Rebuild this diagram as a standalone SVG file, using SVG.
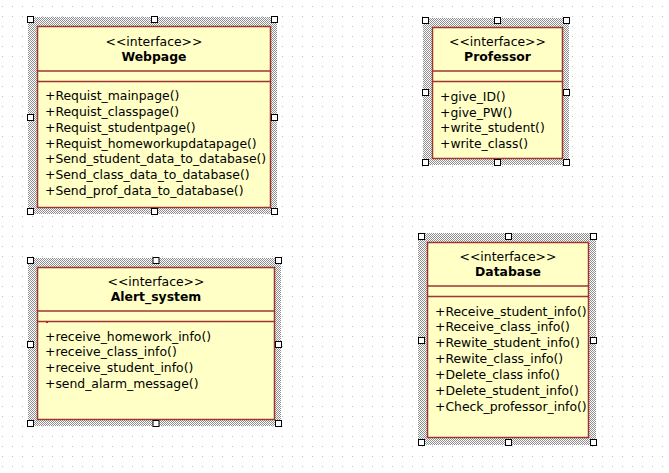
<svg xmlns="http://www.w3.org/2000/svg" width="669" height="473" viewBox="0 0 669 473">
<defs>
<pattern id="grid" x="0" y="0" width="10" height="10" patternUnits="userSpaceOnUse"><rect x="2" y="6" width="1" height="1" fill="#bfbfbf"/></pattern>
<pattern id="hatch" x="0" y="0" width="2" height="2" patternUnits="userSpaceOnUse"><rect width="2" height="2" fill="#ffffff"/><rect x="0" y="0" width="1" height="1" fill="#8f8f8f"/><rect x="1" y="1" width="1" height="1" fill="#8f8f8f"/></pattern>
</defs>
<style>
.hatch{fill:url(#hatch)}
.box{fill:#ffffc6;stroke:#9e3535;stroke-width:1.5}
.div{stroke:#9e3535;stroke-width:1.5}
.h{fill:#ffffff;stroke:#000000;stroke-width:1}
text{font-family:"DejaVu Sans","Liberation Sans",sans-serif;font-size:12.4px;fill:#000}
.st{text-anchor:middle}
.nm{text-anchor:middle;font-weight:bold}
</style>
<rect width="669" height="473" fill="#ffffff"/>
<rect width="669" height="473" fill="url(#grid)"/>
<g id="connectors"></g>

<g id="webpage">
<rect class="hatch" x="28" y="17" width="249" height="197"/>
<rect class="box" x="37.5" y="26.5" width="233" height="181"/>
<line class="div" x1="37.5" y1="71" x2="270.5" y2="71"/>
<line class="div" x1="37.5" y1="81.5" x2="270.5" y2="81.5"/>
<text class="st" x="154" y="46">&lt;&lt;interface&gt;&gt;</text>
<text class="nm" x="154" y="61">Webpage</text>
<text x="45" y="100">+Requist_mainpage()</text>
<text x="45" y="115.9">+Requist_classpage()</text>
<text x="45" y="131.7">+Requist_studentpage()</text>
<text x="45" y="147.6">+Requist_homeworkupdatapage()</text>
<text x="45" y="163.4">+Send_student_data_to_database()</text>
<text x="45" y="179.3">+Send_class_data_to_database()</text>
<text x="45" y="195.1">+Send_prof_data_to_database()</text>
<rect class="h" x="27.5" y="16.5" width="6" height="6"/>
<rect class="h" x="151.5" y="16.5" width="6" height="6"/>
<rect class="h" x="271.5" y="16.5" width="6" height="6"/>
<rect class="h" x="27.5" y="114.5" width="6" height="6"/>
<rect class="h" x="271.5" y="114.5" width="6" height="6"/>
<rect class="h" x="27.5" y="208.5" width="6" height="6"/>
<rect class="h" x="151.5" y="208.5" width="6" height="6"/>
<rect class="h" x="271.5" y="208.5" width="6" height="6"/>
</g>

<g id="professor">
<rect class="hatch" x="423" y="18" width="146" height="147"/>
<rect class="box" x="432.5" y="27.5" width="130" height="131"/>
<line class="div" x1="432.5" y1="71" x2="562.5" y2="71"/>
<line class="div" x1="432.5" y1="81.5" x2="562.5" y2="81.5"/>
<text class="st" x="497.5" y="46">&lt;&lt;interface&gt;&gt;</text>
<text class="nm" x="497.5" y="61">Professor</text>
<text x="440" y="101">+give_ID()</text>
<text x="440" y="116.5">+give_PW()</text>
<text x="440" y="132">+write_student()</text>
<text x="440" y="147.5">+write_class()</text>
<rect class="h" x="422.5" y="17.5" width="6" height="6"/>
<rect class="h" x="494.5" y="17.5" width="6" height="6"/>
<rect class="h" x="563.5" y="17.5" width="6" height="6"/>
<rect class="h" x="422.5" y="89.5" width="6" height="6"/>
<rect class="h" x="563.5" y="89.5" width="6" height="6"/>
<rect class="h" x="422.5" y="159.5" width="6" height="6"/>
<rect class="h" x="494.5" y="159.5" width="6" height="6"/>
<rect class="h" x="563.5" y="159.5" width="6" height="6"/>
</g>

<g id="alert_system">
<rect class="hatch" x="28" y="258" width="253" height="168"/>
<rect class="box" x="37.5" y="267.5" width="237" height="152"/>
<line class="div" x1="37.5" y1="311" x2="274.5" y2="311"/>
<line class="div" x1="37.5" y1="321.5" x2="274.5" y2="321.5"/>
<rect x="46" y="322" width="2" height="1" fill="#ff0000"/>
<text class="st" x="156" y="286">&lt;&lt;interface&gt;&gt;</text>
<text class="nm" x="156" y="301">Alert_system</text>
<text x="45" y="340.5">+receive_homework_info()</text>
<text x="45" y="356.3">+receive_class_info()</text>
<text x="45" y="372.1">+receive_student_info()</text>
<text x="45" y="387.9">+send_alarm_message()</text>
<rect class="h" x="27.5" y="257.5" width="6" height="6"/>
<rect class="h" x="153" y="257.5" width="6" height="6"/>
<rect class="h" x="275.5" y="257.5" width="6" height="6"/>
<rect class="h" x="27.5" y="341.5" width="6" height="6"/>
<rect class="h" x="275.5" y="341.5" width="6" height="6"/>
<rect class="h" x="27.5" y="420.5" width="6" height="6"/>
<rect class="h" x="153" y="420.5" width="6" height="6"/>
<rect class="h" x="275.5" y="420.5" width="6" height="6"/>
</g>

<g id="database">
<rect class="hatch" x="418" y="233" width="178" height="212"/>
<rect class="box" x="427.5" y="242.5" width="161" height="195"/>
<line class="div" x1="427.5" y1="286" x2="588.5" y2="286"/>
<line class="div" x1="427.5" y1="296.5" x2="588.5" y2="296.5"/>
<text class="st" x="508" y="261">&lt;&lt;interface&gt;&gt;</text>
<text class="nm" x="508" y="276">Database</text>
<text x="435" y="315.5">+Receive_student_info()</text>
<text x="435" y="331.4">+Receive_class_info()</text>
<text x="435" y="347.2">+Rewite_student_info()</text>
<text x="435" y="363.1">+Rewite_class_info()</text>
<text x="435" y="378.9">+Delete_class info()</text>
<text x="435" y="394.8">+Delete_student_info()</text>
<text x="435" y="410.6">+Check_professor_info()</text>
<rect class="h" x="418.5" y="233.5" width="6" height="6"/>
<rect class="h" x="505.5" y="233.5" width="6" height="6"/>
<rect class="h" x="590.5" y="233.5" width="6" height="6"/>
<rect class="h" x="418.5" y="337.5" width="6" height="6"/>
<rect class="h" x="590.5" y="337.5" width="6" height="6"/>
<rect class="h" x="418.5" y="439.5" width="6" height="6"/>
<rect class="h" x="505.5" y="439.5" width="6" height="6"/>
<rect class="h" x="590.5" y="439.5" width="6" height="6"/>
</g>
</svg>
